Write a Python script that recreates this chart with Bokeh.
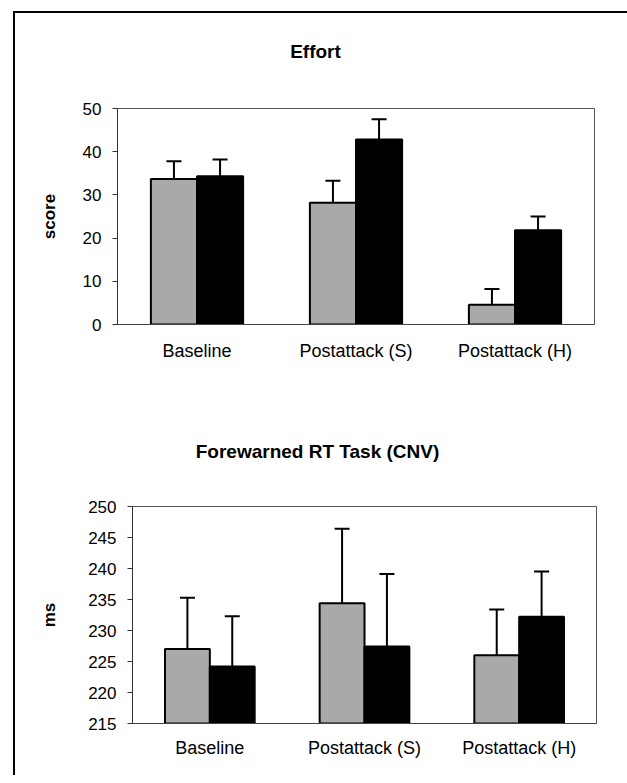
from bokeh.plotting import figure
from bokeh.layouts import column, row
from bokeh.models import (Whisker, TeeHead, ColumnDataSource, FixedTicker,
                          Spacer, Div)
from bokeh.transform import dodge
from bokeh.core.properties import value
from bokeh.embed import file_html
from bokeh.resources import INLINE

categories = ["Baseline", "Postattack (S)", "Postattack (H)"]

# Effort scores
effort_gray = [33.7, 28.2, 4.6]
effort_gray_err = [4.1, 5.1, 3.6]
effort_black = [34.3, 42.8, 21.8]
effort_black_err = [3.9, 4.7, 3.2]

# Forewarned RT task (ms)
rt_gray = [227.0, 234.4, 226.0]
rt_gray_err = [8.3, 12.0, 7.4]
rt_black = [224.2, 227.4, 232.2]
rt_black_err = [8.1, 11.7, 7.3]

effort_ticks = [0, 10, 20, 30, 40, 50]
rt_ticks = [215, 220, 225, 230, 235, 240, 245, 250]

titles = ["Effort", "Forewarned RT Task (CNV)"]

FONT = "Liberation Sans"
GRAY = "#a9a9a9"
BW = 0.29
OFF = 0.145
W = 604
MBL = 102
MBR = 25


def make_panel(ylabel, gray, gray_err, black, black_err, yr, ticks,
               w, h, mbl, mbr, mbt, mbb, label_standoff, ylabel_standoff):
    p = figure(x_range=categories, y_range=yr, width=w, height=h,
               output_backend="svg", toolbar_location=None,
               min_border_left=mbl, min_border_right=mbr,
               min_border_top=mbt, min_border_bottom=mbb)
    p.title = None
    base = yr[0]
    src = ColumnDataSource(dict(
        cat=categories, g=gray, b=black,
        gu=[v + e for v, e in zip(gray, gray_err)],
        bu=[v + e for v, e in zip(black, black_err)],
    ))
    for col_v, col_u, off in (("g", "gu", -OFF), ("b", "bu", OFF)):
        wk = Whisker(source=src, base=dodge("cat", off, range=p.x_range),
                     lower=col_v, upper=col_u, dimension="height",
                     line_color="black", line_width=2,
                     lower_head=None,
                     upper_head=TeeHead(size=15, line_color="black", line_width=2))
        p.add_layout(wk)
    p.vbar(x=dodge("cat", -OFF, range=p.x_range), top="g", bottom=base, width=BW,
           source=src, fill_color=GRAY, line_color="black", line_width=2)
    p.vbar(x=dodge("cat", OFF, range=p.x_range), top="b", bottom=base, width=BW,
           source=src, fill_color="black", line_color="black", line_width=2)

    p.xgrid.visible = False
    p.ygrid.visible = False
    p.outline_line_color = "#555555"
    p.outline_line_width = 1

    p.yaxis.ticker = FixedTicker(ticks=ticks)
    p.yaxis.minor_tick_line_color = None
    p.yaxis.major_tick_in = 0
    p.yaxis.major_tick_out = 5
    p.yaxis.axis_line_color = "#333333"
    p.yaxis.major_tick_line_color = "#333333"
    p.yaxis.major_label_text_font = FONT
    p.yaxis.major_label_text_font_size = "17px"
    p.yaxis.major_label_text_color = "black"
    p.yaxis.major_label_standoff = 11
    p.yaxis.axis_label = ylabel
    p.yaxis.axis_label_text_font = FONT
    p.yaxis.axis_label_text_font_size = "17px"
    p.yaxis.axis_label_text_font_style = "bold"
    p.yaxis.axis_label_text_color = "black"
    p.yaxis.axis_label_standoff = ylabel_standoff

    p.xaxis.major_tick_line_color = None
    p.xaxis.minor_tick_line_color = None
    p.xaxis.axis_line_color = "#444444"
    p.xaxis.major_label_text_font = FONT
    p.xaxis.major_label_text_font_size = "18px"
    p.xaxis.major_label_text_color = "black"
    p.xaxis.major_label_standoff = label_standoff
    return p


def title_strip(text, h, cx, cy_from_top):
    fw = W - MBL - MBR
    t = figure(width=W, height=h, x_range=(0, fw), y_range=(0, h),
               output_backend="svg", toolbar_location=None,
               x_axis_type=None, y_axis_type=None,
               min_border_left=MBL, min_border_right=MBR,
               min_border_top=0, min_border_bottom=0,
               outline_line_color=None)
    t.grid.visible = False
    t.text(x=[cx], y=[h - cy_from_top], text=[text],
           text_font=value(FONT), text_font_size="19px",
           text_font_style="bold", text_color="black",
           text_align="center", text_baseline="middle")
    return t


def rule(w, h):
    return Div(text="", width=w, height=h, margin=0,
               styles={"background-color": "black"})


t1 = title_strip(titles[0], 60, 198, 38)
p1 = make_panel("score", effort_gray, effort_gray_err,
                effort_black, effort_black_err, (0, 50), effort_ticks,
                W, 337, MBL, MBR, 35, 86, 10, 21)
t2 = title_strip(titles[1], 60, 200, 41)
p2 = make_panel("ms", rt_gray, rt_gray_err,
                rt_black, rt_black_err, (215, 250), rt_ticks,
                W - 15, 305, MBL, 23, 36, 52, 8, 26)

inner = column(rule(612, 2), t1, p1, t2,
               row(Spacer(width=15, height=10), p2, spacing=0),
               spacing=0)
layout = column(Spacer(height=11, width=10),
                row(Spacer(width=13, height=10), rule(2, 764), inner, spacing=0),
                spacing=0)

open("out.html", "w").write(file_html(layout, INLINE))
